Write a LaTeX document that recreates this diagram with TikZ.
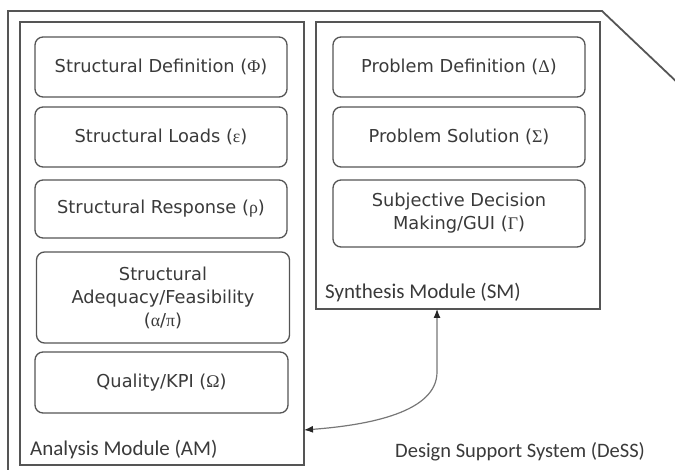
\documentclass[tikz,border=0pt]{standalone}
\usepackage{fontspec}
\setmainfont{DejaVu Sans}
\newfontfamily\lblfont{Carlito}
\newfontfamily\grk{Liberation Serif}
\usetikzlibrary{arrows.meta}
\definecolor{ln}{HTML}{555555}
\definecolor{tx}{HTML}{3A3A3A}
\begin{document}
\begin{tikzpicture}[x=1pt,y=-1pt,
  frame/.style={draw=ln,line width=1.8pt},
  mbox/.style={draw=ln,line width=1.5pt},
  rbox/.style={draw=ln,line width=1.3pt,rounded corners=8pt,text=tx,font=\fontsize{17.8}{21}\selectfont,align=center,inner sep=0pt},
  mlabel/.style={text=tx,font=\lblfont\fontsize{21}{24}\selectfont,inner sep=0pt,anchor=west},
  link/.style={draw=ln!80,line width=1.2pt,{Latex[length=9pt,width=7pt,color=black!85]}-{Latex[length=9pt,width=7pt,color=black!85]}}]
\useasboundingbox (0,0) rectangle (675,470);
\clip (0,0) rectangle (675,470);
% outer DeSS frame
\draw[frame] (8,480) -- (8,11) -- (602,11) -- (700,104);
% modules
\draw[mbox] (20,22) rectangle (304,465);
\draw[mbox] (316,22) rectangle (600,309);
\coordinate (am) at (304,430);
\coordinate (sm) at (437,309);
% AM boxes
\node[rbox,minimum width=252pt,minimum height=60pt] (phi) at (161,67) {Structural Definition ({\grk Φ})};
\node[rbox,minimum width=252pt,minimum height=60pt] (eps) at (161,137) {Structural Loads ({\grk ε})};
\node[rbox,minimum width=252pt,minimum height=58pt] (rho) at (161,209) {Structural Response ({\grk ρ})};
\node[rbox,minimum width=253pt,minimum height=91pt] (alpha) at (163,297.5) {Structural\\[2pt]Adequacy/Feasibility\\[2pt]({\grk α}/{\grk π})};
\node[rbox,minimum width=253pt,minimum height=61pt] (omega) at (161.5,382.5) {Quality/KPI ({\grk Ω})};
\node[mlabel] (amlbl) at (30,450) {Analysis Module (AM)};
% SM boxes
\node[rbox,minimum width=252pt,minimum height=60pt] (delta) at (459,67) {Problem Definition ({\grk Δ})};
\node[rbox,minimum width=252pt,minimum height=60pt] (sigma) at (459,137) {Problem Solution ({\grk Σ})};
\node[rbox,minimum width=252pt,minimum height=67pt] (gamma) at (459,213.5) {Subjective Decision\\[2pt]Making/GUI ({\grk Γ})};
\node[mlabel] (smlbl) at (325,293) {Synthesis Module (SM)};
% DeSS label
\node[mlabel,font=\lblfont\fontsize{20.5}{23}\selectfont] (desslbl) at (395,452) {Design Support System (DeSS)};
% link
\draw[link] (sm) -- (437,372) .. controls (437,412) and (370,425) .. (am);
\end{tikzpicture}
\end{document}
